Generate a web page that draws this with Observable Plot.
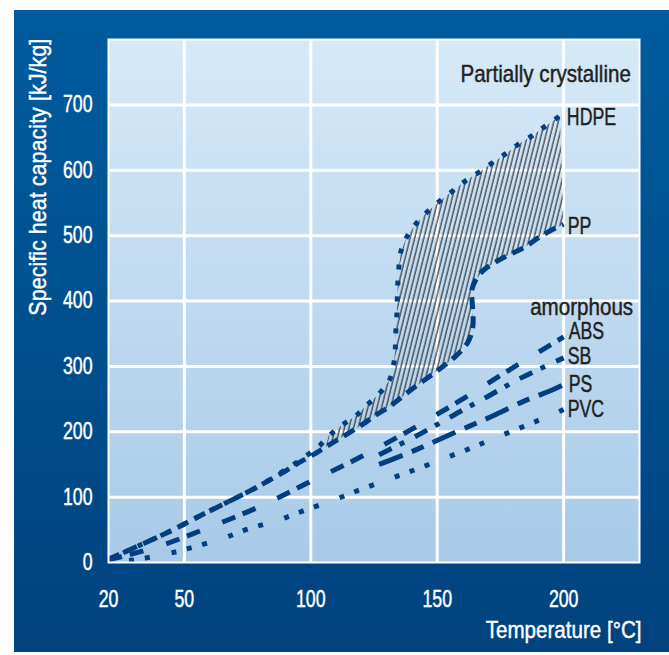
<!DOCTYPE html>
<html><head><meta charset="utf-8">
<script src="https://cdn.jsdelivr.net/npm/d3@7"></script>
<script src="https://cdn.jsdelivr.net/npm/@observablehq/plot@0.6"></script>
<style>
html,body{margin:0;padding:0;background:#fff;width:669px;height:655px;overflow:hidden}
#panel{position:absolute;left:14px;top:10px;width:655px;height:642px;background:linear-gradient(#005c9e,#00437f)}
#chart{position:absolute;left:0;top:0}
</style></head><body><div id="panel"></div><div id="chart"></div>
<script>
// ---- data ----
const xTicks = [20, 50, 100, 150, 200];
const yTicks = [0, 100, 200, 300, 400, 500, 600, 700];
const xGrid = [50, 100, 150, 200];
const yGrid = [100, 200, 300, 400, 500, 600, 700];

const hdpeTemp = [20, 35, 46, 57, 70, 80, 90, 97, 103, 107, 112, 118, 122, 127, 131, 132.7, 133.4, 133.6, 134, 134.2, 134.4, 134.8, 135.6, 138, 141.6, 146, 151, 156, 161, 166.5, 171.7, 177, 182.2, 187.6, 193, 198.5];
const hdpeCp   = [5, 31, 51, 73, 98, 118, 142, 160, 177, 193, 209, 225, 240, 258, 278, 301, 325, 351, 375, 401, 425, 450, 475, 498, 518, 536, 553, 568, 583, 597, 611, 625, 640, 653, 668, 683];

const ppTemp = [20, 35, 46, 57, 70, 80, 90, 95, 101, 106, 112, 120, 125.5, 131, 135, 141, 147.5, 152, 157.4, 162, 164, 164.2, 163.8, 163.6, 165.2, 168, 172, 178, 184.5, 190.5, 197, 200];
const ppCp   = [5, 31, 51, 73, 98, 118, 140, 152, 165, 177, 191, 210, 225, 238, 250, 268, 286, 299, 316, 336, 358, 375, 400, 415, 432, 446, 457, 470, 482, 498, 512, 517];

const absTemp = [20, 40, 60, 80, 100, 120, 140, 160, 180, 200];
const absCp   = [4, 25, 54, 86, 124, 162, 204, 250, 298, 345];

const sbTemp = [127, 140, 150, 160, 170, 183, 200];
const sbCp   = [165, 190, 211, 233, 254, 282, 313];

const psTemp = [127, 137, 145, 153, 163, 173, 185, 195, 200];
const psCp   = [150, 165, 178, 192, 209, 226, 248, 263, 272];

const pvcTemp = [24, 30, 43, 53, 66, 75, 88, 97, 110, 120, 132, 142, 154, 164, 170, 186, 200];
const pvcCp   = [1, 4, 13, 23, 38, 51, 66, 79, 97, 112, 129, 143, 161, 176, 186, 211, 234];

const seriesNames = ["HDPE", "PP", "ABS", "SB", "PS", "PVC"];
const groupLabels = ["Partially crystalline", "amorphous"];
const xLabel = "Temperature [°C]";
const yLabel = "Specific heat capacity [kJ/kg]";

// ---- build tables ----
const rows = (name, t, c) => t.map((x, i) => ({series: name, x, y: c[i]}));
const all = {
  HDPE: rows("HDPE", hdpeTemp, hdpeCp),
  PP: rows("PP", ppTemp, ppCp),
  ABS: rows("ABS", absTemp, absCp),
  SB: rows("SB", sbTemp, sbCp),
  PS: rows("PS", psTemp, psCp),
  PVC: rows("PVC", pvcTemp, pvcCp)
};
const endOf = n => [all[n][all[n].length - 1]];
const hatch = [...all.HDPE.filter(d => d.x >= 106), ...all.PP.filter(d => d.x >= 106).reverse()];

// ---- styles ----
const navy = "#033f80";
const ink = "#231f20";
const dashes = {HDPE: "5 11", PP: "12 7", ABS: "14 8 14 24", SB: "14 9 5 12", PS: "25 10 13 10", PVC: "5 11 5 11 5 22"};
const labelOffset = {HDPE: [7, 2], PP: [4, 2], ABS: [5, -5.5], SB: [4, -1.5], PS: [5, 0], PVC: [4, 0]};
const font = "'Liberation Sans', Arial, sans-serif";

const lineMarks = seriesNames.map(n => Plot.line(all[n], {
  x: "x", y: "y", stroke: navy, strokeWidth: 5, strokeDasharray: dashes[n],
  strokeLinecap: "butt", curve: "catmull-rom", className: "curve-" + n
}));
const labelMarks = seriesNames.map(n => Plot.text(endOf(n), {
  x: "x", y: "y", text: "series", textAnchor: "start", lineAnchor: "middle",
  dx: labelOffset[n][0], dy: labelOffset[n][1], fill: ink, fontSize: 23
}));

const svg = Plot.plot({
  width: 669, height: 655,
  marginLeft: 108, marginRight: 30, marginTop: 39, marginBottom: 93,
  x: {domain: [20, 230]},
  y: {domain: [0, 800]},
  style: {fontFamily: font, fontSize: "23px", color: "white", background: "transparent", overflow: "visible"},
  marks: [
    Plot.frame({fill: "url(#plotBg)", stroke: null}),
    Plot.gridX(xGrid, {stroke: "white", strokeOpacity: 1, strokeWidth: 3}),
    Plot.gridY(yGrid, {stroke: "white", strokeOpacity: 1, strokeWidth: 3}),
    Plot.line(hatch, {x: "x", y: "y", fill: "url(#hatch)", stroke: null, curve: "linear"}),
    ...lineMarks,
    Plot.frame({stroke: "white", strokeWidth: 2}),
    Plot.axisX(xTicks, {tickSize: 0, tickPadding: 28, label: null, fontSize: 23}),
    Plot.axisY(yTicks, {tickSize: 0, tickPadding: 16, label: null, fontSize: 23}),
    ...labelMarks,
    Plot.text(endOf("HDPE"), {x: "x", y: "y", text: () => groupLabels[0], textAnchor: "end", lineAnchor: "middle", dx: 71, dy: -41.6, fill: ink, fontSize: 24.5}),
    Plot.text(endOf("ABS"), {x: "x", y: "y", text: () => groupLabels[1], textAnchor: "end", lineAnchor: "middle", dx: 69.5, dy: -29.5, fill: ink, fontSize: 24.5}),
    Plot.text([xLabel], {frameAnchor: "bottom-right", textAnchor: "end", lineAnchor: "middle", dx: 2, dy: 68, fill: "white", fontSize: 24.5}),
    Plot.text([yLabel], {frameAnchor: "top-left", rotate: -90, textAnchor: "end", lineAnchor: "middle", dx: -70, dy: -0.7, fill: "white", fontSize: 24.5})
  ]
});

const s = d3.select(svg);
const defs = s.insert("defs", ":first-child");
const g = defs.append("linearGradient").attr("id", "plotBg").attr("x1", 0).attr("y1", 0).attr("x2", 0).attr("y2", 1);
g.append("stop").attr("offset", "0%").attr("stop-color", "#d6e9f7");
g.append("stop").attr("offset", "100%").attr("stop-color", "#a8cae8");
const p = defs.append("pattern").attr("id", "hatch").attr("patternUnits", "userSpaceOnUse")
  .attr("width", 4.45).attr("height", 20).attr("patternTransform", "rotate(14)");
p.append("line").attr("x1", 1).attr("x2", 1).attr("y1", 0).attr("y2", 20).attr("stroke", "#151515").attr("stroke-width", 1);

document.getElementById("chart").appendChild(svg);

// make the PVC dot pattern finish with a dot at the line's end
s.selectAll(".curve-PVC path").each(function () {
  try {
    const L = this.getTotalLength();
    const P = 5 + 11 + 5 + 11 + 5 + 22;
    const off = ((5 - (L % P)) % P + P) % P;
    this.setAttribute("stroke-dashoffset", off.toFixed(2));
  } catch (e) {}
});

// condensed, slightly heavier look: shrink each text's advance width (anchor kept by text-anchor)
s.selectAll("text").each(function () {
  const txt = this.textContent;
  const k = txt.startsWith("Specific") ? 0.88 : (/[a-z]/.test(txt) ? 0.84 : 0.77);
  let w = 0;
  try { w = this.getComputedTextLength(); } catch (e) { w = 0; }
  if (w > 0) {
    this.setAttribute("textLength", (w * k).toFixed(2));
    this.setAttribute("lengthAdjust", "spacingAndGlyphs");
  }
  const fill = getComputedStyle(this).fill;
  this.setAttribute("stroke", fill);
  this.setAttribute("stroke-width", 0.45);
});
</script>
</body></html>
